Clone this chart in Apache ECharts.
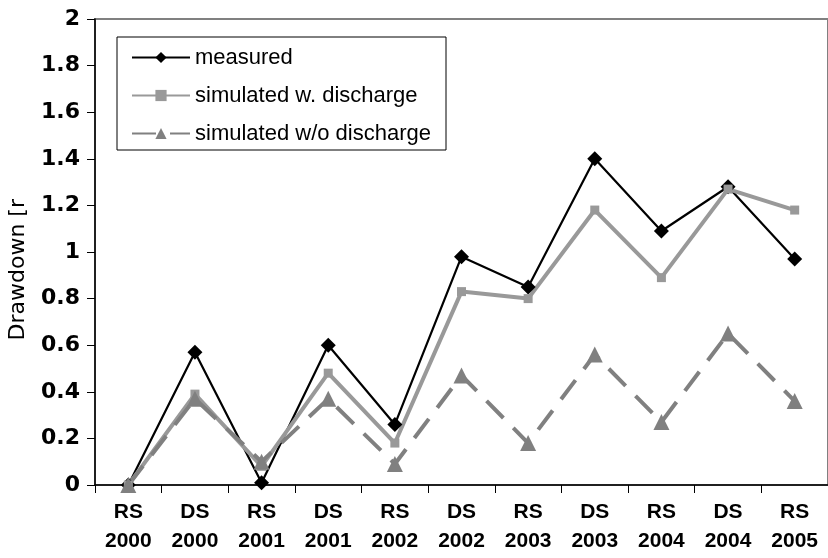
<!DOCTYPE html>
<html>
<head>
<meta charset="utf-8">
<script src="https://cdn.jsdelivr.net/npm/echarts@6/dist/echarts.min.js"></script>
<style>
  html, body { margin: 0; padding: 0; background: #fff; }
  #chart { width: 828px; height: 558px; }
</style>
</head>
<body>
<div id="chart"></div>
<script>
// Survey campaigns (rainy season / dry season) and drawdown values
const categories = ['RS\n2000', 'DS\n2000', 'RS\n2001', 'DS\n2001', 'RS\n2002', 'DS\n2002',
                    'RS\n2003', 'DS\n2003', 'RS\n2004', 'DS\n2004', 'RS\n2005'];
const measured = [0, 0.57, 0.01, 0.60, 0.26, 0.98, 0.85, 1.40, 1.09, 1.28, 0.97];
const simulatedWithDischarge = [0, 0.39, 0.08, 0.48, 0.18, 0.83, 0.80, 1.18, 0.89, 1.27, 1.18];
const simulatedWithoutDischarge = [0, 0.37, 0.10, 0.37, 0.09, 0.47, 0.18, 0.56, 0.27, 0.65, 0.36];
const seriesNames = ['measured', 'simulated w. discharge', 'simulated w/o discharge'];
const yTitle = 'Drawdown [r';

const FONT = '"Liberation Sans", Arial, sans-serif';
const chart = echarts.init(document.getElementById('chart'), null, { renderer: 'canvas' });

chart.setOption({
  animation: false,
  backgroundColor: '#ffffff',
  grid: {
    left: 95, top: 19, width: 742, bottom: 73,
    show: true, borderColor: '#808080', borderWidth: 2, backgroundColor: 'transparent'
  },
  legend: {
    orient: 'vertical',
    left: 117, top: 37,
    itemWidth: 58, itemHeight: 14, itemGap: 15,
    padding: [9, 15, 5, 14],
    borderColor: '#000', borderWidth: 1, backgroundColor: '#fff',
    textStyle: { fontFamily: FONT, fontSize: 22, lineHeight: 23, color: '#000' },
    data: seriesNames
  },
  graphic: [{
    type: 'text',
    left: 7, top: 199,
    rotation: Math.PI / 2,
    style: { text: yTitle, font: '22px "DejaVu Sans", sans-serif', fill: '#000' }
  }],
  xAxis: {
    type: 'category',
    data: categories,
    boundaryGap: true,
    axisLine: { lineStyle: { color: '#000', width: 1.5 } },
    axisTick: { show: true, length: 8, lineStyle: { color: '#000' } },
    axisLabel: {
      interval: 0, margin: 13,
      fontFamily: FONT, fontSize: 21, fontWeight: 'bold', color: '#000', lineHeight: 29
    },
    splitLine: { show: false }
  },
  yAxis: {
    type: 'value',
    min: 0, max: 2, interval: 0.2,
    axisLine: { show: true, lineStyle: { color: '#000', width: 1.5 } },
    axisTick: { show: true, length: 8, lineStyle: { color: '#000' } },
    axisLabel: {
      margin: 15, fontFamily: '"DejaVu Sans", sans-serif', fontSize: 22, fontWeight: 'bold', color: '#000'
    },
    splitLine: { show: false }
  },
  series: [
    {
      name: seriesNames[0], type: 'line', data: measured,
      color: '#000',
      lineStyle: { color: '#000', width: 2.2 },
      itemStyle: { color: '#000' },
      symbol: 'diamond', symbolSize: 15
    },
    {
      name: seriesNames[1], type: 'line', data: simulatedWithDischarge,
      color: '#999999',
      lineStyle: { color: '#999999', width: 4 },
      itemStyle: { color: '#999999' },
      symbol: 'rect', symbolSize: 9
    },
    {
      name: seriesNames[2], type: 'line', data: simulatedWithoutDischarge,
      color: '#808080',
      lineStyle: { color: '#808080', width: 4, type: [24, 14] },
      itemStyle: { color: '#808080' },
      symbol: 'triangle', symbolSize: 16
    }
  ]
});
</script>
</body>
</html>
